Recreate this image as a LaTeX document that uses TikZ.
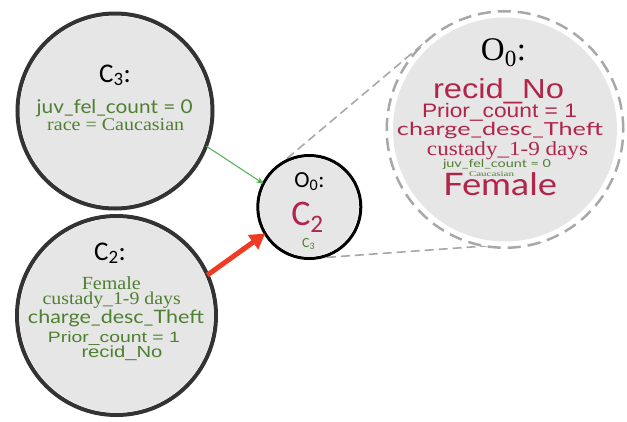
\documentclass[tikz,border=0pt]{standalone}
\usepackage{fontspec}
\usepackage{graphicx}
\usetikzlibrary{arrows.meta,backgrounds}

% font families used for the terms
\newfontfamily\calibrif{Carlito}
\newfontfamily\arialf{Liberation Sans}
\newfontfamily\timesf{Liberation Serif}
\newfontfamily\geomf{Lato}

\definecolor{cellgray}{HTML}{E6E6E6}
\definecolor{clusterline}{HTML}{333333}
\definecolor{termred}{HTML}{B0254A}
\definecolor{termgreen}{HTML}{4F7F30}
\definecolor{arrowgreen}{HTML}{4CAF50}
\definecolor{arrowred}{HTML}{EE3B24}
\definecolor{ringgray}{HTML}{A8A8A8}

\newcommand\fs[1]{\fontsize{#1}{#1}\selectfont}
% stretch a line of text to a given width, keeping its height
\newcommand\fitw[2]{\resizebox{#1}{\height}{#2}}

\tikzset{
  clusterbox/.style={circle, draw=clusterline, line width=4pt, fill=white,
    inner sep=0pt, outer sep=0pt},
  centerbox/.style={circle, draw=black, line width=3pt, fill=white,
    inner sep=0pt, outer sep=0pt},
  zoombox/.style={circle, draw=ringgray, line width=2.5pt,
    dash pattern=on 13pt off 7pt, fill=white, inner sep=0pt, outer sep=0pt},
  zoomline/.style={draw=ringgray, line width=1.6pt, dash pattern=on 9pt off 5pt},
  termline/.style={anchor=base, inner sep=0pt, outer sep=0pt},
  weakedge/.style={draw=arrowgreen, line width=1pt,
    -{Stealth[length=7pt,width=6pt]}},
  strongedge/.style={draw=arrowred, line width=5pt,
    -{Triangle[length=15pt,width=17pt]}},
}

\begin{document}
\begin{tikzpicture}[x=1pt,y=-1pt]
\useasboundingbox (0,0) rectangle (627,421);

% cluster and object circles
\node[clusterbox, minimum size=195pt] (c3) at (115,111) {};
\fill[cellgray] (c3.center) circle[radius=95pt];
\node[clusterbox, minimum size=199pt] (c2) at (116.5,315.5) {};
\fill[cellgray] (c2.center) circle[radius=97pt];
\node[centerbox, minimum size=103pt] (o) at (309.3,207) {};
\fill[cellgray] (o.center) circle[radius=49.5pt];
\node[zoombox, minimum size=236.5pt] (z) at (505,129.5) {};
\fill[cellgray] (z.center) circle[radius=112pt];

% zoom lines, under the circles
\begin{pgfonlayer}{background}
  \draw[zoomline] (o.130) -- (z.130);
  \draw[zoomline] (o.-86.8) -- (z.-72);
\end{pgfonlayer}

% edges towards the object
\draw[weakedge] (c3.-21.4) -- (o.153.6);
\draw[strongedge] (c2.24.7) -- (o.211.2);

% cluster C3
\node[termline] (c3lbl) at (115,82) {\calibrif\fs{27}C\textsubscript{3}:};
\node[termline, text=termgreen] (c3a) at (114.7,113)
  {\fitw{156pt}{\geomf\fs{19}juv\_fel\_count = 0}};
\node[termline, text=termgreen] (c3b) at (115.7,130)
  {\fitw{137pt}{\timesf\fs{18}race = Caucasian}};

% cluster C2
\node[termline] (c2lbl) at (110,260) {\calibrif\fs{27}C\textsubscript{2}:};
\node[termline, text=termgreen] (c2a) at (111.3,289.5)
  {\fitw{59pt}{\timesf\fs{18.5}Female}};
\node[termline, text=termgreen] (c2b) at (111.7,304)
  {\fitw{138pt}{\timesf\fs{18}custady\_1-9 days}};
\node[termline, text=termgreen] (c2c) at (116,323)
  {\fitw{176pt}{\geomf\fs{18.5}charge\_desc\_Theft}};
\node[termline, text=termgreen] (c2d) at (114,342)
  {\fitw{132pt}{\arialf\fs{15}Prior\_count = 1}};
\node[termline, text=termgreen] (c2e) at (122,357)
  {\fitw{81pt}{\arialf\fs{16}recid\_No}};

% object O0
\node[termline] (olbl) at (309.5,187) {\calibrif\fs{23}O\textsubscript{0}:};
\node[termline, text=termred] (omain) at (307.5,225)
  {\calibrif\fs{36}C\textsubscript{2}};
\node[termline, text=termgreen] (oside) at (308.5,247)
  {\calibrif\fs{14}C\textsubscript{3}};

% zoomed view of O0
\node[termline] (zlbl) at (503.5,60) {\timesf\fs{33}O\textsubscript{0}:};
\node[termline, text=termred] (z1) at (498.5,98)
  {\fitw{131pt}{\arialf\fs{27.5}recid\_No}};
\node[termline, text=termred] (z2) at (499.5,117)
  {\fitw{155pt}{\arialf\fs{19.5}Prior\_count = 1}};
\node[termline, text=termred] (z3) at (500,135)
  {\fitw{206pt}{\geomf\fs{18}charge\_desc\_Theft}};
\node[termline, text=termred] (z4) at (507.5,155)
  {\fitw{161pt}{\timesf\fs{20}custady\_1-9 days}};
\node[termline, text=termgreen] (z5) at (497,167)
  {\fitw{108pt}{\geomf\fs{11}juv\_fel\_count = 0}};
\node[termline, text=termgreen] (z6) at (491.5,176.5)
  {\fitw{45pt}{\timesf\fs{7.5}Caucasian}};
\node[termline, text=termred] (z7) at (500,195)
  {\fitw{114pt}{\geomf\fs{31}Female}};
\end{tikzpicture}
\end{document}
